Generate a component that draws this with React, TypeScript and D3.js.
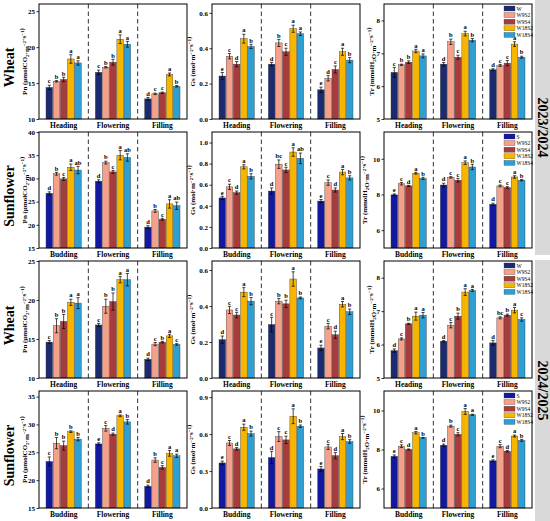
import { useEffect, useRef } from "react"
import * as d3 from "d3"

const wheatTreatments = ["W", "W9S2", "W9S4", "W18S2", "W18S4"]
const sunflowerTreatments = ["S", "W9S2", "W9S4", "W18S2", "W18S4"]
const wheatStages = ["Heading", "Flowering", "Filling"]
const sunflowerStages = ["Budding", "Flowering", "Filling"]
const years = ["2023/2024", "2024/2025"]

// ---- 2023/2024 wheat
const pnWheat23 = [[14.4, 15.25, 15.5, 18.35, 17.8], [16.5, 17.2, 17.9, 21.1, 20.4], [12.8, 13.5, 13.65, 16.2, 14.55]]
const pnWheat23Err = [[0.3, 0.1, 0.3, 0.6, 0.3], [0.3, 0.1, 0.4, 0.6, 0.4], [0.2, 0.1, 0.1, 0.2, 0.1]]
const pnWheat23Sig = [["c", "b", "b", "a", "a"], ["c", "b", "b", "a", "a"], ["d", "c", "c", "a", "b"]]
const gsWheat23 = [[0.243, 0.355, 0.31, 0.454, 0.41], [0.31, 0.43, 0.38, 0.51, 0.482], [0.165, 0.23, 0.28, 0.38, 0.333]]
const gsWheat23Err = [[0.02, 0.015, 0.015, 0.025, 0.012], [0.01, 0.02, 0.02, 0.02, 0.01], [0.015, 0.015, 0.02, 0.02, 0.015]]
const gsWheat23Sig = [["e", "c", "d", "a", "b"], ["d", "b", "c", "a", "a"], ["e", "d", "c", "a", "b"]]
const trWheat23 = [[6.42, 6.65, 6.73, 7.07, 6.92], [6.67, 7.35, 6.88, 7.6, 7.4], [6.5, 6.63, 6.7, 7.28, 6.88]]
const trWheat23Err = [[0.15, 0.02, 0.04, 0.05, 0.06], [0.05, 0.08, 0.06, 0.07, 0.05], [0.03, 0.03, 0.08, 0.07, 0.03]]
const trWheat23Sig = [["c", "b", "b", "a", "a"], ["d", "b", "c", "a", "b"], ["d", "c", "c", "a", "b"]]

// ---- 2023/2024 sunflower
const pnSun23 = [[26.8, 31.0, 29.9, 32.4, 31.8], [29.4, 33.4, 31.4, 35.0, 34.5], [19.5, 23.0, 21.2, 24.5, 24.1]]
const pnSun23Err = [[0.3, 0.3, 0.3, 0.7, 0.8], [0.3, 0.3, 0.3, 1.0, 0.8], [0.3, 0.3, 0.2, 0.9, 0.8]]
const pnSun23Sig = [["d", "b", "c", "a", "ab"], ["d", "b", "c", "a", "ab"], ["d", "b", "c", "a", "ab"]]
const gsSun23 = [[0.475, 0.58, 0.525, 0.77, 0.68], [0.54, 0.795, 0.74, 0.91, 0.85], [0.445, 0.62, 0.55, 0.72, 0.665]]
const gsSun23Err = [[0.015, 0.025, 0.015, 0.02, 0.025], [0.03, 0.04, 0.025, 0.04, 0.05], [0.015, 0.025, 0.02, 0.025, 0.02]]
const gsSun23Sig = [["e", "c", "d", "a", "b"], ["d", "bc", "c", "a", "ab"], ["e", "c", "d", "a", "b"]]
const trSun23 = [[7.98, 8.6, 8.48, 9.19, 8.9], [8.53, 8.96, 8.8, 9.78, 9.54], [7.45, 8.48, 8.39, 8.98, 8.8]]
const trSun23Err = [[0.05, 0.07, 0.03, 0.05, 0.06], [0.1, 0.04, 0.1, 0.1, 0.15], [0.06, 0.05, 0.05, 0.07, 0.04]]
const trSun23Sig = [["e", "c", "d", "a", "b"], ["d", "c", "c", "a", "b"], ["d", "c", "c", "a", "b"]]

// ---- 2024/2025 wheat
const pnWheat24 = [[14.6, 16.7, 17.25, 19.7, 19.6], [16.8, 19.2, 19.8, 22.6, 22.6], [12.4, 14.35, 14.6, 15.4, 14.3]]
const pnWheat24Err = [[0.2, 0.9, 0.9, 0.4, 0.7], [0.2, 0.9, 1.1, 0.4, 0.8], [0.15, 0.2, 0.1, 0.2, 0.1]]
const pnWheat24Sig = [["c", "b", "b", "a", "a"], ["c", "b", "b", "a", "a"], ["d", "c", "b", "a", "c"]]
const gsWheat24 = [[0.213, 0.378, 0.35, 0.477, 0.427], [0.297, 0.427, 0.412, 0.55, 0.445], [0.167, 0.288, 0.24, 0.41, 0.368]]
const gsWheat24Err = [[0.02, 0.02, 0.015, 0.025, 0.02], [0.04, 0.015, 0.02, 0.04, 0.005], [0.015, 0.015, 0.02, 0.015, 0.015]]
const gsWheat24Sig = [["d", "c", "c", "a", "b"], ["c", "b", "b", "a", "b"], ["e", "c", "d", "a", "b"]]
const trWheat24 = [[5.82, 6.17, 6.62, 6.85, 6.88], [6.1, 6.58, 6.85, 7.57, 7.62], [6.05, 6.8, 6.88, 7.03, 6.75]]
const trWheat24Err = [[0.05, 0.03, 0.02, 0.12, 0.08], [0.02, 0.08, 0.09, 0.1, 0.03], [0.07, 0.03, 0.03, 0.08, 0.05]]
const trWheat24Sig = [["d", "c", "b", "a", "a"], ["d", "c", "b", "a", "a"], ["d", "bc", "b", "a", "c"]]

// ---- 2024/2025 sunflower
const pnSun24 = [[23.36, 26.64, 26.2, 28.7, 27.36], [26.5, 29.3, 28.25, 31.55, 30.46], [18.9, 23.6, 22.3, 24.8, 24.37]]
const pnSun24Err = [[0.8, 1.0, 0.8, 0.15, 0.3], [0.2, 0.5, 0.2, 0.15, 0.4], [0.2, 0.4, 0.3, 0.5, 0.3]]
const pnSun24Sig = [["c", "b", "b", "b", "b"], ["e", "c", "d", "a", "b"], ["d", "b", "c", "a", "a"]]
const gsSun24 = [[0.366, 0.528, 0.48, 0.656, 0.604], [0.41, 0.58, 0.553, 0.745, 0.664], [0.317, 0.496, 0.425, 0.58, 0.54]]
const gsSun24Err = [[0.015, 0.02, 0.01, 0.025, 0.02], [0.05, 0.04, 0.03, 0.06, 0.01], [0.02, 0.02, 0.025, 0.025, 0.015]]
const gsSun24Sig = [["e", "c", "d", "a", "b"], ["d", "c", "c", "a", "b"], ["e", "c", "d", "a", "b"]]
const trSun24 = [[7.65, 8.17, 8.0, 8.86, 8.6], [8.22, 9.2, 8.78, 9.95, 9.78], [7.42, 8.17, 7.91, 8.69, 8.47]]
const trSun24Err = [[0.07, 0.07, 0.03, 0.06, 0.02], [0.06, 0.05, 0.08, 0.15, 0.03], [0.05, 0.08, 0.04, 0.05, 0.05]]
const trSun24Sig = [["e", "c", "d", "a", "b"], ["d", "b", "c", "a", "a"], ["e", "c", "d", "a", "b"]]

// y axis ranges and ticks
const pnWheat23Domain = [10, 26]
const pnWheat23Ticks = [10, 15, 20, 25]
const gsWheatDomain = [0, 0.65]
const gsWheatTicks = [0, 0.2, 0.4, 0.6]
const trWheatDomain = [5, 8.5]
const trWheatTicks = [5, 6, 7, 8]
const pnSun23Domain = [15, 40]
const pnSun23Ticks = [15, 20, 25, 30, 35, 40]
const gsSun23Domain = [0, 1.1]
const gsSun23Ticks = [0, 0.2, 0.4, 0.6, 0.8, 1.0]
const trSun23Domain = [5, 11.5]
const trSunTicks = [6, 8, 10]
const pnWheat24Domain = [10, 25]
const pnWheat24Ticks = [10, 15, 20, 25]
const pnSun24Domain = [15, 36]
const pnSun24Ticks = [15, 20, 25, 30, 35]
const gsSun24Domain = [0, 0.95]
const gsSun24Ticks = [0, 0.3, 0.6, 0.9]
const trSun24Domain = [5, 11]

const wheatColors = ["#1c2b70", "#f4a08a", "#a83c3c", "#f8b500", "#2e9fd3"]
const sunflowerColors = ["#1219a0", "#f4a08a", "#a83c3c", "#f8b500", "#2e9fd3"]

const FONT = "'Times New Roman', 'Liberation Serif', serif"

export default function App() {
  const svgRef = useRef<SVGSVGElement>(null)

  useEffect(() => {
    if (!svgRef.current) return
    const svg = d3.select(svgRef.current)
    svg.selectAll("*").remove()

    const colX = [[39, 187], [212, 360], [384, 532]]
    const rowY = [[4, 119], [132, 248], [261, 378], [391, 508]]
    const titleOffset = [[14, 19, 12], [14, 19, 19], [14, 19, 12], [14, 19, 19]]

    const rows = [
      { crop: "Wheat", treat: wheatTreatments, stages: wheatStages, colors: wheatColors, panels: [
        { v: pnWheat23, e: pnWheat23Err, s: pnWheat23Sig, dom: pnWheat23Domain, ticks: pnWheat23Ticks, kind: "Pn" },
        { v: gsWheat23, e: gsWheat23Err, s: gsWheat23Sig, dom: gsWheatDomain, ticks: gsWheatTicks, kind: "Gs" },
        { v: trWheat23, e: trWheat23Err, s: trWheat23Sig, dom: trWheatDomain, ticks: trWheatTicks, kind: "Tr" },
      ] },
      { crop: "Sunflower", treat: sunflowerTreatments, stages: sunflowerStages, colors: sunflowerColors, panels: [
        { v: pnSun23, e: pnSun23Err, s: pnSun23Sig, dom: pnSun23Domain, ticks: pnSun23Ticks, kind: "Pn" },
        { v: gsSun23, e: gsSun23Err, s: gsSun23Sig, dom: gsSun23Domain, ticks: gsSun23Ticks, kind: "Gs" },
        { v: trSun23, e: trSun23Err, s: trSun23Sig, dom: trSun23Domain, ticks: trSunTicks, kind: "Tr" },
      ] },
      { crop: "Wheat", treat: wheatTreatments, stages: wheatStages, colors: wheatColors, panels: [
        { v: pnWheat24, e: pnWheat24Err, s: pnWheat24Sig, dom: pnWheat24Domain, ticks: pnWheat24Ticks, kind: "Pn" },
        { v: gsWheat24, e: gsWheat24Err, s: gsWheat24Sig, dom: gsWheatDomain, ticks: gsWheatTicks, kind: "Gs" },
        { v: trWheat24, e: trWheat24Err, s: trWheat24Sig, dom: trWheatDomain, ticks: trWheatTicks, kind: "Tr" },
      ] },
      { crop: "Sunflower", treat: sunflowerTreatments, stages: sunflowerStages, colors: sunflowerColors, panels: [
        { v: pnSun24, e: pnSun24Err, s: pnSun24Sig, dom: pnSun24Domain, ticks: pnSun24Ticks, kind: "Pn" },
        { v: gsSun24, e: gsSun24Err, s: gsSun24Sig, dom: gsSun24Domain, ticks: gsSun24Ticks, kind: "Gs" },
        { v: trSun24, e: trSun24Err, s: trSun24Sig, dom: trSun24Domain, ticks: trSunTicks, kind: "Tr" },
      ] },
    ]

    // year strips on the right
    const stripY = [[0, 255], [260, 521]]
    years.forEach((yr, i) => {
      svg.append("rect")
        .attr("x", 535).attr("y", stripY[i][0])
        .attr("width", 15).attr("height", stripY[i][1] - stripY[i][0])
        .attr("fill", "#d9d9d9")
      const cy = (stripY[i][0] + stripY[i][1]) / 2
      svg.append("text")
        .attr("transform", `translate(542.5,${cy}) rotate(90)`)
        .attr("text-anchor", "middle")
        .attr("dominant-baseline", "central")
        .style("font-family", FONT).style("font-weight", "bold").style("font-size", "14px")
        .text(yr)
    })

    // axis title with sub/superscripts
    const addTitle = (t: any, kind: string) => {
      const sup = (s: string) => { t.append("tspan").attr("dy", -2.2).style("font-size", "5px").text(s); t.append("tspan").attr("dy", 2.2).text("") }
      const sub = (s: string) => { t.append("tspan").attr("dy", 1.6).style("font-size", "5px").text(s); t.append("tspan").attr("dy", -1.6).text("") }
      if (kind === "Pn") {
        t.append("tspan").text("Pn (μmolCO"); sub("2"); t.append("tspan").text("·m"); sup("−2"); t.append("tspan").text("·s"); sup("−1"); t.append("tspan").text(")")
      } else if (kind === "Gs") {
        t.append("tspan").text("Gs (mol·m"); sup("−2"); t.append("tspan").text("·s"); sup("−1"); t.append("tspan").text(")")
      } else {
        t.append("tspan").text("Tr (mmolH"); sub("2"); t.append("tspan").text("O·m"); sup("−2"); t.append("tspan").text("·s"); sup("−1"); t.append("tspan").text(")")
      }
    }

    rows.forEach((row, ri) => {
      const [top, bottom] = rowY[ri]

      // crop name
      svg.append("text")
        .attr("transform", `translate(9,${(top + bottom) / 2 + 6}) rotate(-90)`)
        .attr("text-anchor", "middle")
        .attr("dominant-baseline", "central")
        .style("font-family", FONT).style("font-weight", "bold").style("font-size", "14px")
        .text(row.crop)

      row.panels.forEach((p, ci) => {
        const [left, right] = colX[ci]
        const g = svg.append("g")

        const x0 = d3.scaleBand().domain(row.stages).range([left, right]).padding(0)
        const x1 = d3.scaleBand().domain(row.treat).range([7, x0.bandwidth() - 7]).paddingInner(0.08)
        const y = d3.scaleLinear().domain(p.dom).range([bottom, top])

        // bars
        row.stages.forEach((stage, si) => {
          const grp = g.append("g").attr("transform", `translate(${x0(stage)},0)`)
          row.treat.forEach((tr, ti) => {
            const v = p.v[si][ti]
            const err = p.e[si][ti]
            const bx = x1(tr) || 0
            const bw = x1.bandwidth()
            grp.append("rect")
              .attr("x", bx).attr("y", y(v))
              .attr("width", bw).attr("height", y(p.dom[0]) - y(v))
              .attr("fill", row.colors[ti])
              .attr("stroke", "#3a3a3a").attr("stroke-width", 0.4)
            const cx = bx + bw / 2
            grp.append("line").attr("x1", cx).attr("x2", cx).attr("y1", y(v - err)).attr("y2", y(v + err))
              .attr("stroke", "black").attr("stroke-width", 0.7)
            ;[v - err, v + err].forEach((yy) => {
              grp.append("line").attr("x1", cx - 1.6).attr("x2", cx + 1.6).attr("y1", y(yy)).attr("y2", y(yy))
                .attr("stroke", "black").attr("stroke-width", 0.7)
            })
            grp.append("text")
              .attr("x", cx).attr("y", y(v + err) - 1.8)
              .attr("text-anchor", "middle")
              .style("font-family", FONT).style("font-weight", "bold").style("font-size", "6.5px")
              .text(p.s[si][ti])
          })
        })

        // dashed separators
        row.stages.slice(1).forEach((stage) => {
          const sx = x0(stage) || 0
          g.append("line").attr("x1", sx).attr("x2", sx).attr("y1", top).attr("y2", bottom)
            .attr("stroke", "#333").attr("stroke-width", 1).attr("stroke-dasharray", "4.5,3")
        })

        // frame
        g.append("rect").attr("x", left).attr("y", top).attr("width", right - left).attr("height", bottom - top)
          .attr("fill", "none").attr("stroke", "black").attr("stroke-width", 1)

        // y axis
        const fmt = p.kind === "Gs" ? d3.format(".1f") : d3.format("d")
        const ax = g.append("g").attr("transform", `translate(${left},0)`)
          .call(d3.axisLeft(y).tickValues(p.ticks).tickSize(2.5).tickFormat((d: any) => fmt(d)))
        ax.select(".domain").remove()
        ax.selectAll("text")
          .attr("x", -4)
          .style("font-family", FONT).style("font-weight", "bold").style("font-size", "7px")
        ax.selectAll("line").attr("stroke-width", 0.8)

        // stage labels
        row.stages.forEach((stage) => {
          g.append("text")
            .attr("x", (x0(stage) || 0) + x0.bandwidth() / 2).attr("y", bottom + 9)
            .attr("text-anchor", "middle")
            .style("font-family", FONT).style("font-weight", "bold").style("font-size", "7.5px")
            .text(stage)
        })

        // y title
        const tt = g.append("text")
          .attr("transform", `translate(${left - titleOffset[ri][ci]},${(top + bottom) / 2}) rotate(-90)`)
          .attr("text-anchor", "middle")
          .attr("dominant-baseline", "central")
          .style("font-family", FONT).style("font-weight", "bold").style("font-size", "7px")
        addTitle(tt, p.kind)

        // legend in Tr panels
        if (p.kind === "Tr") {
          row.treat.forEach((tr, ti) => {
            const ly = top + 2 + ti * 6.6
            g.append("rect").attr("x", right - 28).attr("y", ly).attr("width", 11).attr("height", 5)
              .attr("fill", row.colors[ti]).attr("stroke", "#3a3a3a").attr("stroke-width", 0.3)
            g.append("text").attr("x", right - 15.5).attr("y", ly + 2.6)
              .attr("dominant-baseline", "central")
              .style("font-family", FONT).style("font-size", "5.5px")
              .text(tr)
          })
        }
      })
    })
  }, [])

  return (
    <svg
      ref={svgRef}
      width={550}
      height={521}
      style={{ position: "absolute", left: 0, top: 0, background: "white" }}
    />
  )
}
